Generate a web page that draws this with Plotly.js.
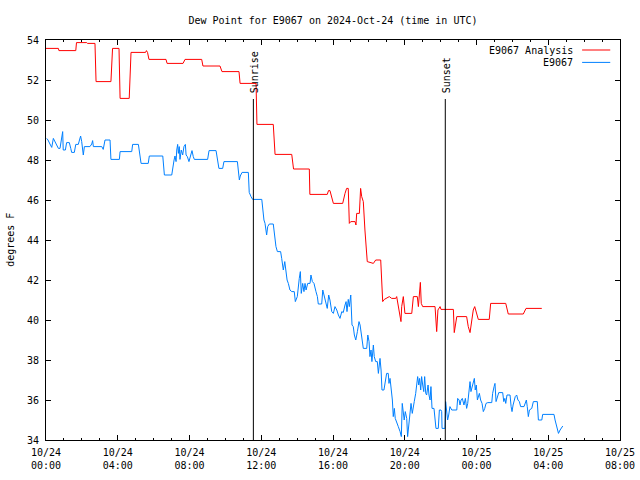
<!DOCTYPE html>
<html>
<head>
<meta charset="utf-8">
<script src="https://cdn.plot.ly/plotly-3.0.1.min.js"></script>
<style>html,body{margin:0;padding:0;background:#fff;}#chart{width:640px;height:480px;}</style>
</head>
<body>
<div id="chart"></div>
<script>
// Hours since 2024-10-24 00:00 UTC
const redTime = [0,0.69,0.72,1.66,1.70,2.27,2.31,2.73,2.79,3.62,3.71,4.07,4.13,4.64,4.74,5.55,5.60,5.66,5.74,6.69,
  6.75,7.64,7.75,8.68,8.75,9.70,9.81,10.76,10.82,11.71,11.76,12.67,12.77,13.70,13.80,14.68,14.71,15.68,15.75,15.83,
  16.02,16.54,16.67,16.76,16.85,16.91,16.99,17.23,17.28,17.32,17.47,17.54,17.60,17.69,17.78,17.84,17.91,18.25,18.38,18.66,
  18.72,18.77,18.86,18.99,19.14,19.27,19.50,19.55,19.64,19.74,19.79,19.83,19.92,20.01,20.39,20.48,20.70,20.76,20.81,20.87,
  20.92,21.00,21.69,21.74,21.78,21.85,21.97,22.02,22.71,22.76,22.84,22.90,23.45,23.54,23.64,23.73,23.82,23.90,23.97,24.10,
  24.71,24.79,25.63,25.77,26.61,26.76,27.64];
const redValue = [53.58,53.58,53.47,53.47,53.87,53.87,53.83,53.83,51.92,51.92,53.58,53.58,51.08,51.08,53.38,53.38,53.47,53.38,53.03,53.03,
  52.83,52.83,53.03,53.03,52.70,52.70,52.42,52.42,51.83,51.83,49.78,49.78,48.28,48.28,47.55,47.55,46.28,46.28,46.47,46.47,
  45.83,45.83,46.33,46.58,46.58,44.83,44.92,44.92,44.75,45.33,45.33,46.58,46.17,45.92,44.50,43.50,42.92,42.83,43.0,43.0,
  42.0,40.92,41.03,41.08,41.17,41.08,41.08,41.17,40.67,40.17,39.92,40.67,41.17,40.33,40.33,41.17,41.17,40.67,41.08,41.88,
  40.83,40.67,40.67,39.67,39.42,40.5,40.67,40.53,40.53,39.37,40.0,40.17,40.17,39.67,39.37,40.08,40.5,40.67,40.42,40.03,
  40.03,40.83,40.83,40.3,40.3,40.58,40.58];

const blueTime = [
  0.04,0.11,0.22,0.32,0.41,0.50,0.60,0.69,0.78,0.82,
  0.88,0.93,0.96,1.08,1.15,1.30,1.38,1.43,1.58,1.66,
  1.80,1.86,1.93,1.99,2.05,2.08,2.14,2.45,2.55,2.60,
  2.64,3.11,3.19,3.29,3.57,3.62,4.09,4.13,4.78,4.83,
  5.15,5.24,5.30,5.70,5.76,6.51,6.58,6.60,7.01,7.06,
  7.14,7.19,7.25,7.29,7.34,7.38,7.43,7.47,7.54,7.62,
  7.69,7.77,7.81,7.88,7.97,8.07,8.14,8.21,8.27,9.01,
  9.09,9.48,9.55,9.64,9.85,9.92,10.67,10.72,10.78,10.83,
  10.93,11.28,11.33,11.43,11.52,12.03,12.08,12.15,12.21,12.30,
  12.36,12.45,12.67,12.73,12.77,12.82,12.90,13.08,13.14,13.23,
  13.31,13.36,13.44,13.51,13.60,13.70,13.84,13.90,14.01,14.12,
  14.18,14.23,14.31,14.38,14.44,14.50,14.59,14.72,14.77,14.85,
  14.94,15.05,15.13,15.18,15.37,15.43,15.50,15.61,15.68,15.76,
  15.83,15.93,16.02,16.11,16.21,16.30,16.39,16.49,16.57,16.67,
  16.73,16.78,16.85,16.91,16.99,17.06,17.13,17.19,17.27,17.36,
  17.45,17.51,17.60,17.69,17.88,17.94,18.01,18.06,18.12,18.17,
  18.25,18.30,18.38,18.47,18.53,18.58,18.62,18.68,18.73,18.84,
  18.92,18.99,19.08,19.12,19.18,19.25,19.31,19.36,19.42,19.47,
  19.55,19.64,19.74,19.81,19.86,19.92,19.97,20.03,20.11,20.16,
  20.22,20.29,20.35,20.42,20.48,20.53,20.61,20.67,20.72,20.78,
  20.83,20.89,20.94,21.00,21.06,21.11,21.17,21.22,21.30,21.35,
  21.41,21.46,21.52,21.63,21.69,21.74,21.87,21.93,22.02,22.06,
  22.08,22.24,22.28,22.34,22.39,22.45,22.52,22.62,22.90,22.95,
  23.03,23.08,23.14,23.21,23.30,23.38,23.45,23.51,23.58,23.64,
  23.69,23.75,23.82,23.88,23.93,23.99,24.05,24.10,24.16,24.23,
  24.31,24.38,24.46,24.53,24.63,24.85,24.90,24.98,25.03,25.09,
  25.16,25.24,25.46,25.52,25.58,25.63,25.70,25.87,25.93,25.98,
  26.04,26.11,26.16,26.24,26.31,26.39,26.46,26.65,26.70,26.78,
  26.83,26.89,26.95,27.02,27.08,27.17,27.39,27.45,27.64,27.69,
  28.32,28.38,28.47,28.57,28.66,28.75,28.81];
const blueValue = [
  49.08,49.0,48.8,48.63,49.08,48.92,48.75,48.58,48.58,48.83,
  49.25,49.42,48.5,48.5,48.87,48.87,48.58,48.38,48.38,48.78,
  48.78,49.0,49.2,48.92,48.47,48.25,48.67,48.67,48.8,48.97,
  48.67,48.67,48.53,49.0,49.0,48.03,48.03,48.42,48.42,48.78,
  48.78,48.03,47.83,47.83,48.2,48.2,47.42,47.25,47.25,47.67,
  48.0,48.2,47.92,48.5,48.78,48.33,48.67,48.03,48.5,48.25,
  48.67,48.78,48.25,48.17,47.92,48.25,48.47,48.17,48.03,48.03,
  48.47,48.47,48.0,47.58,47.58,47.92,47.92,47.33,47.0,47.2,
  47.38,47.38,46.38,46.17,46.03,46.03,45.42,45.0,44.83,44.25,
  44.67,44.8,44.8,44.33,43.92,43.67,43.42,43.42,43.08,42.5,
  42.92,42.5,42.0,41.83,41.5,41.42,41.42,40.92,41.17,42.08,
  42.42,41.33,41.83,41.42,41.83,41.5,41.83,41.83,42.25,41.92,
  41.83,41.42,41.17,40.8,40.8,41.5,41.25,40.83,40.58,41.25,
  41.0,40.42,40.33,40.67,40.5,40.25,40.08,40.42,40.37,40.75,
  40.92,40.42,41.03,40.67,41.25,39.75,39.67,39.25,39.0,39.42,
  39.92,39.75,39.25,38.58,38.58,39.25,38.92,38.17,38.5,37.92,
  38.75,38.17,37.92,37.92,37.33,37.67,38.08,37.5,36.5,36.5,
  37.08,37.33,37.33,36.83,37.08,36.58,36.0,35.17,35.58,35.08,
  34.83,34.67,34.42,34.17,35.83,35.5,35.0,35.42,35.08,34.17,
  34.67,35.0,35.83,35.33,35.58,35.92,36.33,36.92,37.17,36.75,
  37.08,36.5,37.17,36.75,36.42,37.17,36.33,36.25,36.75,36.25,
  36.0,36.67,35.58,35.58,35.0,34.58,34.58,35.5,35.5,35.42,
  34.58,34.58,35.92,35.5,35.0,35.25,35.67,35.5,35.5,36.08,
  36.0,35.75,36.0,36.08,35.75,36.08,35.58,35.83,36.33,36.92,
  36.42,36.67,37.0,37.08,36.5,36.75,36.0,36.17,36.33,36.0,
  35.83,35.42,35.58,35.83,35.87,35.87,36.33,36.67,36.83,35.92,
  36.17,36.37,36.37,35.92,36.08,35.83,36.25,36.25,35.67,35.42,
  35.75,36.0,36.17,36.25,36.0,35.92,35.67,35.67,35.83,36.0,
  35.67,35.17,35.5,35.53,35.58,35.92,35.92,35.0,35.0,35.28,
  35.28,35.0,34.67,34.33,34.5,34.63,34.7];

const sunTimes = [11.56, 22.26];
const sunLabels = ['Sunrise', 'Sunset'];
const sunLineTop = 51.05;

const seriesNames = ['E9067 Analysis', 'E9067'];
const seriesColors = ['#ff0000', '#0080ff'];

const tickHours = [0, 4, 8, 12, 16, 20, 24, 28, 32];
const tickLabels = ['10/24<br>00:00','10/24<br>04:00','10/24<br>08:00','10/24<br>12:00','10/24<br>16:00',
                    '10/24<br>20:00','10/25<br>00:00','10/25<br>04:00','10/25<br>08:00'];

const FONT = 'DejaVu Sans Mono, Liberation Mono, monospace';

const traces = [
  {x: redTime, y: redValue, type: 'scatter', mode: 'lines', name: seriesNames[0],
   line: {color: seriesColors[0], width: 1}, showlegend: false, hoverinfo: 'skip'},
  {x: blueTime, y: blueValue, type: 'scatter', mode: 'lines', name: seriesNames[1],
   line: {color: seriesColors[1], width: 1}, showlegend: false, hoverinfo: 'skip'}
];
sunTimes.forEach(function (t) {
  traces.push({x: [t, t], y: [34, sunLineTop], type: 'scatter', mode: 'lines',
    line: {color: '#000', width: 1}, showlegend: false, hoverinfo: 'skip'});
});

const annotations = sunTimes.map(function (t, i) {
  return {x: t, y: sunLineTop, xref: 'x', yref: 'y', text: sunLabels[i], textangle: -90,
    showarrow: false, xanchor: 'center', yanchor: 'bottom', yshift: 4, xshift: 1,
    font: {family: FONT, size: 10, color: '#000'}};
});
// legend (text left of the sample line, as in the original)
const legendY = [0.975, 0.944];
seriesNames.forEach(function (n, i) {
  annotations.push({x: 0.922, y: legendY[i], xref: 'paper', yref: 'paper', text: n,
    showarrow: false, xanchor: 'right', yanchor: 'middle',
    font: {family: FONT, size: 10, color: '#000'}});
});
annotations.push({x: -0.063, y: 0.5, xref: 'paper', yref: 'paper', text: 'degrees F', textangle: -90,
  showarrow: false, xanchor: 'center', yanchor: 'middle', font: {family: FONT, size: 10, color: '#000'}});

const shapes = seriesNames.map(function (n, i) {
  return {type: 'line', xref: 'paper', yref: 'paper', x0: 0.934, x1: 0.983, y0: legendY[i], y1: legendY[i],
    line: {color: seriesColors[i], width: 1}};
});

const layout = {
  width: 640, height: 480,
  margin: {l: 46, r: 20, t: 40, b: 40},
  paper_bgcolor: '#fff', plot_bgcolor: '#fff',
  font: {family: FONT, size: 10, color: '#000'},
  title: {text: 'Dew Point for E9067 on 2024-Oct-24 (time in UTC)', xref: 'paper', x: 0.5,
          y: 0.958, yanchor: 'middle', font: {family: FONT, size: 10, color: '#000'}},
  xaxis: {range: [0, 32], tickmode: 'array', tickvals: tickHours, ticktext: tickLabels,
    showgrid: false, zeroline: false, showline: true, linecolor: '#000', linewidth: 1,
    mirror: 'allticks', ticks: 'inside', ticklen: 5, tickcolor: '#000', tickwidth: 1,
    ticklabelstandoff: 3,
    minor: {tickmode: 'linear', tick0: 0, dtick: 1, ticks: 'inside', ticklen: 2, tickcolor: '#000', showgrid: false},
    tickfont: {family: FONT, size: 10, color: '#000'}, fixedrange: true},
  yaxis: {range: [34, 54], tickmode: 'linear', tick0: 34, dtick: 2,
    showgrid: false, zeroline: false, showline: true, linecolor: '#000', linewidth: 1,
    mirror: 'allticks', ticks: 'inside', ticklen: 5, tickcolor: '#000', tickwidth: 1,
    ticklabelstandoff: 4,
    tickfont: {family: FONT, size: 10, color: '#000'}, fixedrange: true},
  annotations: annotations,
  shapes: shapes,
  showlegend: false
};

Plotly.newPlot('chart', traces, layout, {staticPlot: true, displayModeBar: false});
</script>
</body>
</html>
